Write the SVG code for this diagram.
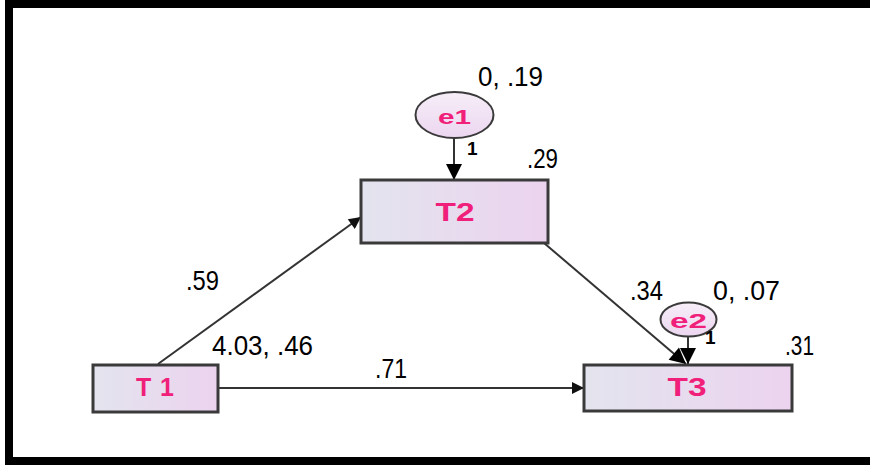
<svg xmlns="http://www.w3.org/2000/svg" width="870" height="468" viewBox="0 0 870 468">
<style>
.box{stroke:#3a3a3a;stroke-width:3}
.ell{stroke:#3a3a3a;stroke-width:2}
.nt{font-family:"Liberation Sans",Arial,sans-serif;font-weight:bold;fill:#f0207a;text-anchor:middle;dominant-baseline:central}
.lbl{font-family:"Liberation Sans",Arial,sans-serif;fill:#000;font-size:27px}
.one{font-family:"Liberation Sans",Arial,sans-serif;fill:#000;font-size:19px;font-weight:bold}
.ln{stroke:#333;stroke-width:2;fill:none}
</style>
<defs>
<linearGradient id="g" x1="0" y1="0" x2="1" y2="0">
<stop offset="0" stop-color="#e3e4ee"/>
<stop offset="1" stop-color="#ecd3ef"/>
</linearGradient>
<linearGradient id="ge" x1="0" y1="0" x2="0" y2="1">
<stop offset="0" stop-color="#f6eef8"/>
<stop offset="1" stop-color="#ecd6f0"/>
</linearGradient>
<marker id="big" viewBox="0 0 10 10" refX="10" refY="5" markerWidth="9" markerHeight="8" markerUnits="strokeWidth" orient="auto">
<path d="M0,0 L10,5 L0,10 Z" fill="#000"/>
</marker>
<marker id="sm" viewBox="0 0 10 10" refX="10" refY="5" markerWidth="7" markerHeight="6" markerUnits="strokeWidth" orient="auto">
<path d="M0,0 L10,5 L0,10 Z" fill="#111"/>
</marker>
</defs>
<rect width="870" height="468" fill="#fff"/>
<rect x="5" y="0" width="865" height="8" fill="#000"/>
<rect x="5" y="0" width="8" height="465" fill="#000"/>
<rect x="5" y="457" width="865" height="8" fill="#000"/>

<g id="connectors">
<line class="ln" x1="454" y1="138" x2="454" y2="180" marker-end="url(#big)"/>
<line class="ln" x1="158" y1="364" x2="361" y2="217" marker-end="url(#sm)"/>
<line class="ln" x1="544" y1="243" x2="686" y2="364" marker-end="url(#big)"/>
<line class="ln" x1="688" y1="337" x2="688" y2="364" marker-end="url(#big)"/>
<line class="ln" x1="218" y1="388" x2="584" y2="388" marker-end="url(#sm)"/>
</g>

<g id="T2">
<rect class="box" x="361" y="180" width="187" height="63" fill="url(#g)"/>
<text class="nt" x="455" y="212" font-size="25" textLength="39" lengthAdjust="spacingAndGlyphs">T2</text>
</g>
<g id="T1">
<rect class="box" x="93" y="365" width="125" height="47" fill="url(#g)"/>
<text class="nt" x="155" y="387" font-size="25" textLength="38" lengthAdjust="spacing">T1</text>
</g>
<g id="T3">
<rect class="box" x="584" y="365" width="208" height="46" fill="url(#g)"/>
<text class="nt" x="687" y="387" font-size="25" textLength="39" lengthAdjust="spacingAndGlyphs">T3</text>
</g>
<g id="e1">
<ellipse class="ell" cx="454.5" cy="115" rx="39" ry="23" fill="url(#ge)"/>
<text class="nt" x="454.5" y="116" font-size="21" textLength="33" lengthAdjust="spacingAndGlyphs">e1</text>
</g>
<g id="e2">
<ellipse class="ell" cx="688.5" cy="319.5" rx="28" ry="17" fill="url(#ge)"/>
<text class="nt" x="688.5" y="320" font-size="21" textLength="37" lengthAdjust="spacingAndGlyphs">e2</text>
</g>

<g id="labels">
<text class="lbl" x="478" y="86" textLength="65" lengthAdjust="spacingAndGlyphs">0, .19</text>
<text class="one" x="467" y="155">1</text>
<text class="lbl" x="527" y="168" textLength="31" lengthAdjust="spacingAndGlyphs">.29</text>
<text class="lbl" x="186" y="290" textLength="33" lengthAdjust="spacingAndGlyphs">.59</text>
<text class="lbl" x="212" y="355" textLength="101" lengthAdjust="spacingAndGlyphs">4.03, .46</text>
<text class="lbl" x="375" y="378" textLength="32" lengthAdjust="spacingAndGlyphs">.71</text>
<text class="lbl" x="630" y="300" textLength="33" lengthAdjust="spacingAndGlyphs">.34</text>
<text class="lbl" x="713" y="300" textLength="67" lengthAdjust="spacingAndGlyphs">0, .07</text>
<text class="one" x="705" y="344">1</text>
<text class="lbl" x="785" y="355" textLength="29" lengthAdjust="spacingAndGlyphs">.31</text>
</g>
</svg>
